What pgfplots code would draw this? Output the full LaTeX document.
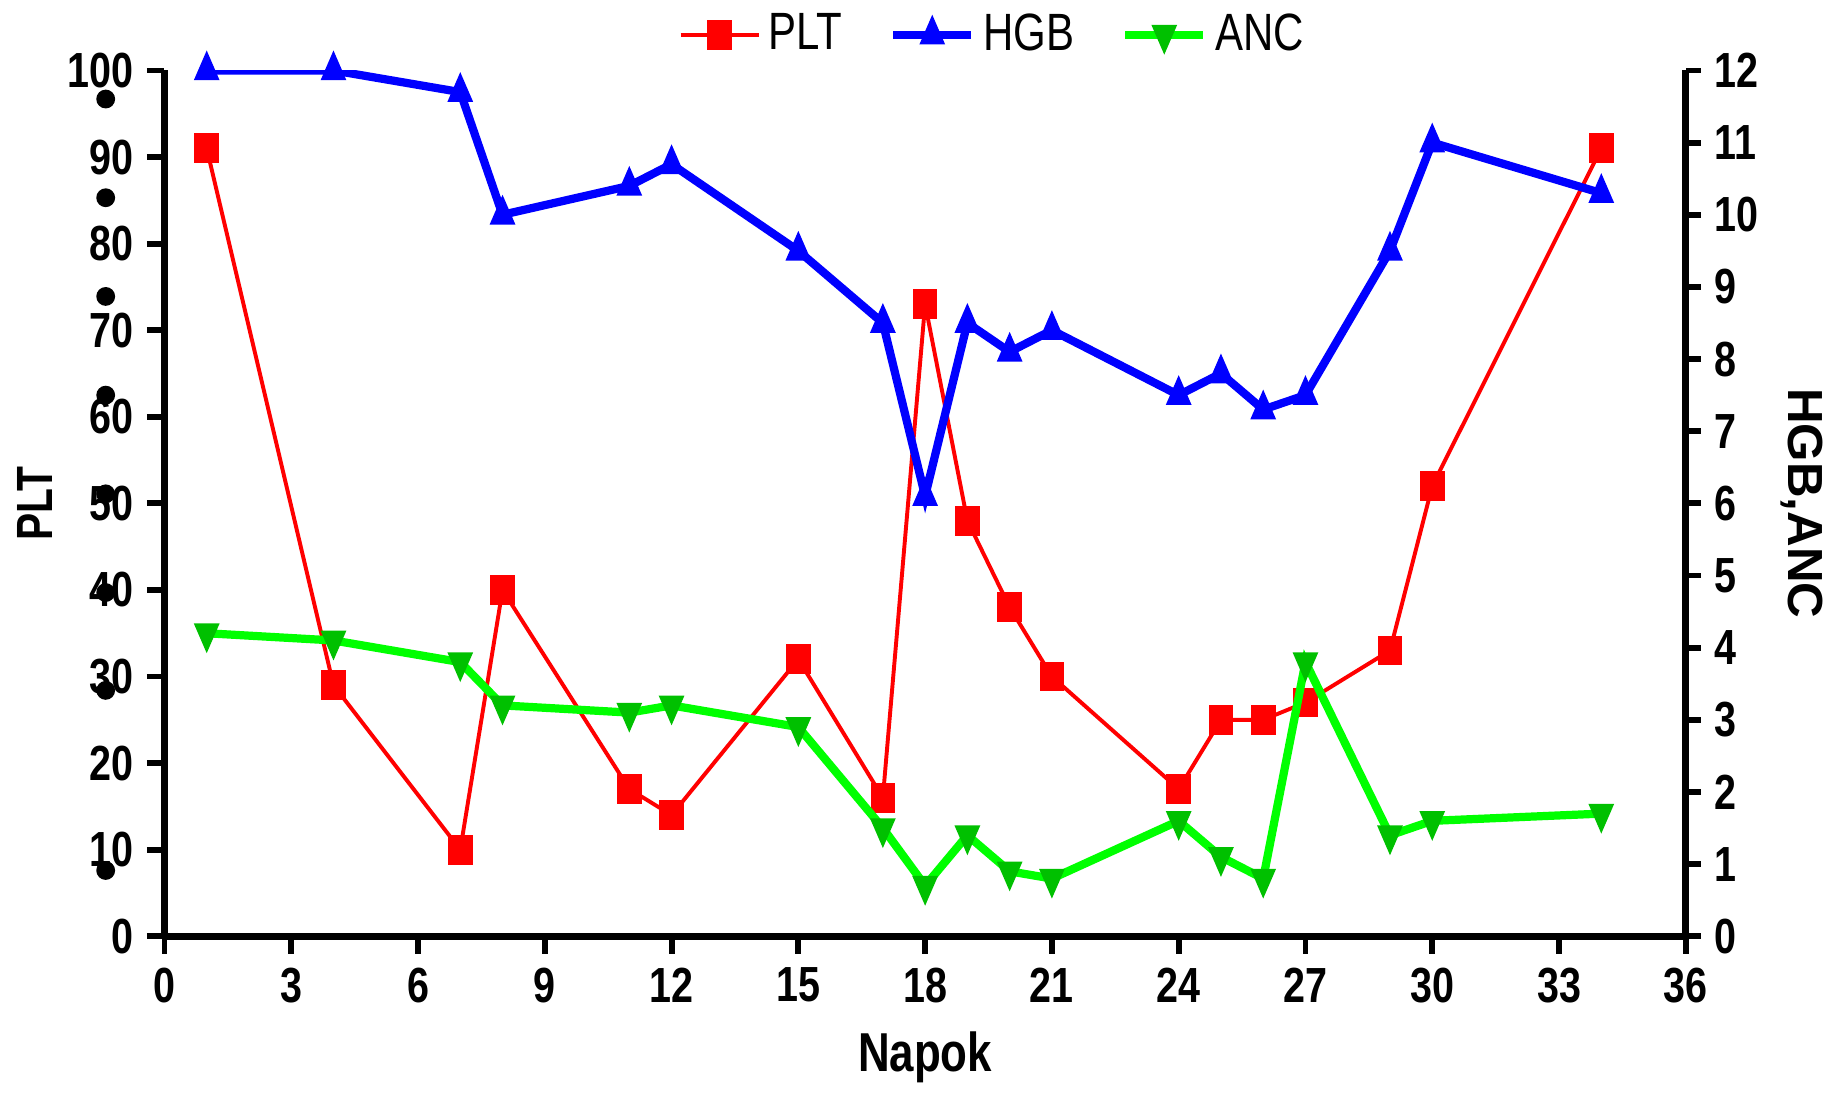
\documentclass[border=0pt]{standalone}
\usepackage{fontspec}
\setmainfont{Liberation Sans}
\newfontfamily\narrowfont{Liberation Sans}[FakeStretch=0.8]
\usepackage{pgfplots}
\pgfplotsset{compat=1.18}

\definecolor{pltred}{RGB}{255,0,0}
\definecolor{hgbblue}{RGB}{0,0,255}
\definecolor{ancline}{RGB}{0,255,0}
\definecolor{ancmark}{RGB}{0,192,0}

\pgfplotsset{
  common/.style={
    width=388.5pt, height=221.1pt, scale only axis,
    xmin=0, xmax=36,
    /pgf/number format/assume math mode=true,
    tick align=outside,
    major tick length=4.5pt,
    tick style={line width=1.5pt, black},
    axis line style={line width=1.8pt},
    tick label style={font=\narrowfont\bfseries\fontsize{12.6}{14}\selectfont},
    label style={font=\bfseries\fontsize{12.6}{14}\selectfont},
  },
  pltstyle/.style={pltred, line width=1pt, mark=square*,
    mark size=3.3pt, mark options={solid, xscale=0.8}},
  hgbstyle/.style={hgbblue, line width=2.1pt, mark=triangle*,
    mark size=4.6pt, mark options={solid, xscale=0.75, line width=0.4pt}},
  ancstyle/.style={ancline, line width=2.1pt, mark=triangle*,
    mark size=4.6pt, mark options={solid, rotate=180, xscale=0.75,
      line width=0.4pt, fill=ancmark, draw=ancmark}},
}

\begin{document}
\begin{tikzpicture}
\begin{axis}[common,
    clip=false,
    axis x line*=bottom, axis y line*=left,
    ymin=0, ymax=100,
    xtick={0,3,...,36},
    ytick={0,10,...,100},
    xlabel={Napok}, ylabel={PLT},
    xlabel style={at={(axis description cs:0.5,-0.14)}, anchor=center,
      font=\narrowfont\bfseries\fontsize{14}{16}\selectfont},
    ylabel style={at={(axis description cs:-0.085,0.5)}, anchor=center,
      font=\narrowfont\bfseries\fontsize{13}{15}\selectfont},
  ]
  \path (rel axis cs:-0.1081,-0.172) rectangle (rel axis cs:1.102,1.0814);
  % stray dots left of the axis
  \addplot[only marks, mark=*, mark size=2.2pt, black] coordinates {
    (-1.39,96.7) (-1.39,85.3) (-1.39,73.9) (-1.39,62.5)
    (-1.39,51.1) (-1.39,39.7) (-1.39,28.4) (-1.39,7.6)
  };
  \addplot[pltstyle] coordinates {
    (1,91) (4,29) (7,10) (8,40) (11,17) (12,14) (15,32) (17,16)
    (18,73) (19,48) (20,38) (21,30) (24,17) (25,25) (26,25) (27,27)
    (29,33) (30,52) (34,91)
  };
\end{axis}
\begin{axis}[common,
    axis x line=none, axis y line*=right,
    ymin=0, ymax=12,
    ytick={0,1,...,12},
    major tick length=3.8pt,
    ylabel={HGB,ANC},
    ylabel style={at={(axis description cs:1.076,0.5)}, anchor=center, rotate=180},
    legend columns=3,
    legend style={draw=none, fill=none, inner sep=1pt,
      at={(axis description cs:0.546,1.0)}, anchor=south, yshift=0.5pt,
      font=\narrowfont\fontsize{13.4}{15}\selectfont,
      /tikz/every even column/.append style={column sep=10pt}},
    legend image code/.code={%
      \draw[mark repeat=2, mark phase=2] plot coordinates {(0cm,0cm) (0.35cm,0cm) (0.7cm,0cm)};},
  ]
  \addlegendimage{pltstyle}
  \addlegendentry{PLT}
  \addplot[hgbstyle] coordinates {
    (1,12) (4,12) (7,11.7) (8,10) (11,10.4) (12,10.7) (15,9.5) (17,8.5)
    (18,6.1) (19,8.5) (20,8.1) (21,8.4) (24,7.5) (25,7.8) (26,7.3) (27,7.5)
    (29,9.5) (30,11) (34,10.3)
  };
  \addlegendentry{HGB}
  \addplot[ancstyle] coordinates {
    (1,4.2) (4,4.1) (7,3.8) (8,3.2) (11,3.1) (12,3.2) (15,2.9) (17,1.5)
    (18,0.7) (19,1.4) (20,0.9) (21,0.8) (24,1.6) (25,1.1) (26,0.8) (27,3.8)
    (29,1.4) (30,1.6) (34,1.7)
  };
  \addlegendentry{ANC}
\end{axis}
\end{tikzpicture}
\end{document}
